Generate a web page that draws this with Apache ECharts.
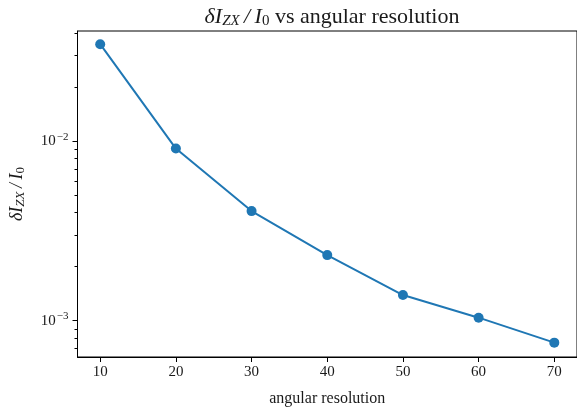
<!DOCTYPE html>
<html>
<head>
<meta charset="utf-8">
<script src="https://cdn.jsdelivr.net/npm/echarts@6/dist/echarts.min.js"></script>
<style>
html,body{margin:0;padding:0;background:#fff;}
#chart{width:577px;height:413px;}
</style>
</head>
<body>
<div id="chart"></div>
<script>
// Data
const resolutions = [10, 20, 30, 40, 50, 60, 70];
const deltaI = [0.0347, 0.0091, 0.00408, 0.00232, 0.00139, 0.00104, 0.000755];
const xTicks = [10, 20, 30, 40, 50, 60, 70];
const yMajorTicks = [0.001, 0.01];
const yMinorTicks = [0.0007, 0.0008, 0.0009, 0.002, 0.003, 0.004, 0.005, 0.006, 0.007, 0.008, 0.009, 0.02, 0.03, 0.04];
const xRange = [7, 73];
const yRange = [0.000628, 0.0411];

const FONT = '"Liberation Serif", "DejaVu Serif", serif';
const TXT = '#1a1a1a';

const chart = echarts.init(document.getElementById('chart'), null, {renderer: 'canvas'});

function powLabel(v) {
  const e = Math.round(Math.log10(v));
  return '{b|10}{s|' + (e < 0 ? '\u2212' + (-e) : e) + '}';
}

const option = {
  animation: false,
  backgroundColor: '#ffffff',
  title: {
    text: '{i|\u03B4I}{sub|ZX}{n|\u2009}{i|/\u2009I}{subn|0}{n| vs angular resolution}',
    left: 327, top: 0, textAlign: 'center',
    textStyle: {
      fontWeight: 'normal',
      rich: {
        i: {fontFamily: FONT, fontStyle: 'italic', fontWeight: 'normal', fontSize: 22, color: TXT},
        sub: {fontFamily: FONT, fontStyle: 'italic', fontWeight: 'normal', fontSize: 15, color: TXT, verticalAlign: 'bottom', padding: [9, 0, 0, 0]},
        subn: {fontFamily: FONT, fontWeight: 'normal', fontSize: 15, color: TXT, verticalAlign: 'bottom', padding: [9, 0, 0, 0]},
        n: {fontFamily: FONT, fontWeight: 'normal', fontSize: 22, color: TXT}
      }
    }
  },
  grid: {left: 76, top: 31, right: -3, bottom: 56, show: true, borderColor: '#000', borderWidth: 1, backgroundColor: 'transparent'},
  xAxis: {
    type: 'value', min: xRange[0], max: xRange[1],
    name: 'angular resolution', nameLocation: 'middle', nameGap: 34,
    nameTextStyle: {fontFamily: FONT, fontSize: 16, color: TXT},
    axisLine: {show: true, onZero: false, lineStyle: {color: '#000', width: 1}},
    axisTick: {show: true, inside: false, length: 5, customValues: xTicks, lineStyle: {color: '#000'}},
    axisLabel: {customValues: xTicks, fontFamily: FONT, fontSize: 15, color: TXT, margin: 8},
    splitLine: {show: false}
  },
  yAxis: [{
    type: 'log', min: yRange[0], max: yRange[1], logBase: 10,
    name: '{i|\u03B4I}{sub|ZX}{n|\u2009}{i|/\u2009I}{subn|0}', nameLocation: 'middle', nameGap: 50, nameRotate: 90,
    nameTextStyle: {
      rich: {
        i: {fontFamily: FONT, fontStyle: 'italic', fontSize: 18, color: TXT},
        sub: {fontFamily: FONT, fontStyle: 'italic', fontSize: 13, color: TXT, verticalAlign: 'bottom', padding: [8, 0, 0, 0]},
        subn: {fontFamily: FONT, fontSize: 13, color: TXT, verticalAlign: 'bottom', padding: [8, 0, 0, 0]},
        n: {fontFamily: FONT, fontSize: 18, color: TXT}
      }
    },
    axisLine: {show: true, lineStyle: {color: '#000', width: 1}},
    axisTick: {show: true, inside: false, length: 5, customValues: yMajorTicks, lineStyle: {color: '#000'}},
    axisLabel: {
      customValues: yMajorTicks, margin: 9,
      formatter: powLabel,
      rich: {
        b: {fontFamily: FONT, fontSize: 15, color: TXT},
        s: {fontFamily: FONT, fontSize: 11, color: TXT, verticalAlign: 'top', padding: [0, 0, 9, 1]}
      }
    },
    splitLine: {show: false}
  }, {
    type: 'log', min: yRange[0], max: yRange[1], logBase: 10, position: 'left', offset: 0,
    axisLine: {show: false},
    axisTick: {show: true, inside: false, length: 3, customValues: yMinorTicks, lineStyle: {color: '#000'}},
    axisLabel: {show: false},
    splitLine: {show: false}
  }],
  series: [{
    type: 'line',
    data: resolutions.map((r, i) => [r, deltaI[i]]),
    yAxisIndex: 0,
    symbol: 'circle', symbolSize: 10,
    lineStyle: {color: '#1f77b4', width: 2},
    itemStyle: {color: '#1f77b4'},
    z: 5
  }]
};
chart.setOption(option);
</script>
</body>
</html>
